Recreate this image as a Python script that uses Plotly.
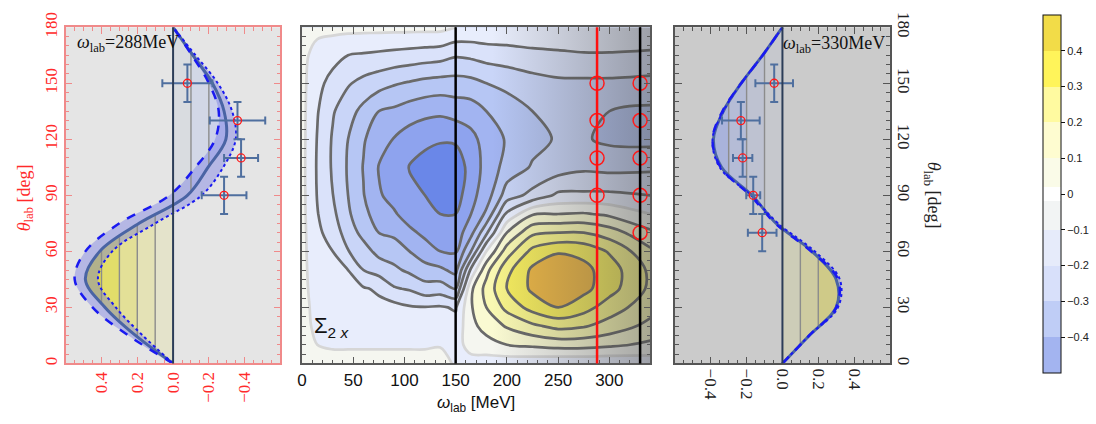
import numpy as np
import plotly.graph_objects as go

# ---------------- middle panel: Sigma_2x(omega, theta) ----------------
omega_grid = [0, 15, 30, 45, 60, 75, 90, 105, 120, 135, 150, 165, 180, 200, 225, 250, 275, 300, 340]
theta_grid = [0, 10, 20, 30, 40, 50, 60, 70, 80, 90, 105, 120, 135, 150, 165, 180]
# one list per omega column, values along theta_grid
s_w000 = [0.03, 0.03, 0.03, 0.03, 0.03, 0.03, 0.03, 0.03, 0.03, 0.03, 0.03, 0.03, 0.03, 0.03, 0.03, 0.03]
s_w015 = [0.03, 0.0, -0.02, -0.03, -0.045, -0.058, -0.07, -0.08, -0.095, -0.105, -0.11, -0.105, -0.093, -0.075, -0.04, 0.03]
s_w030 = [0.03, -0.01, -0.03, -0.05, -0.065, -0.085, -0.10, -0.14, -0.175, -0.198, -0.212, -0.21, -0.19, -0.13, -0.07, 0.03]
s_w045 = [0.03, -0.01, -0.035, -0.06, -0.08, -0.10, -0.195, -0.25, -0.285, -0.30, -0.31, -0.30, -0.26, -0.19, -0.10, 0.03]
s_w060 = [0.03, -0.01, -0.04, -0.065, -0.09, -0.20, -0.26, -0.33, -0.37, -0.395, -0.405, -0.39, -0.33, -0.23, -0.11, 0.03]
s_w075 = [0.03, -0.01, -0.04, -0.075, -0.115, -0.24, -0.33, -0.40, -0.45, -0.49, -0.505, -0.46, -0.40, -0.26, -0.12, 0.03]
s_w090 = [0.03, -0.01, -0.045, -0.065, -0.19, -0.28, -0.35, -0.42, -0.49, -0.53, -0.55, -0.505, -0.42, -0.29, -0.13, 0.03]
s_w105 = [0.03, -0.01, -0.05, -0.09, -0.21, -0.32, -0.40, -0.48, -0.54, -0.575, -0.605, -0.55, -0.45, -0.31, -0.14, 0.03]
s_w120 = [0.03, -0.01, -0.05, -0.095, -0.26, -0.36, -0.46, -0.52, -0.57, -0.60, -0.63, -0.58, -0.47, -0.33, -0.15, 0.03]
s_w135 = [0.03, -0.005, -0.04, -0.09, -0.25, -0.38, -0.50, -0.56, -0.60, -0.63, -0.66, -0.59, -0.48, -0.34, -0.16, 0.03]
s_w150 = [-0.01, -0.03, -0.065, -0.11, -0.30, -0.43, -0.51, -0.56, -0.60, -0.65, -0.68, -0.58, -0.46, -0.34, -0.19, 0.0]
s_w165 = [-0.03, 0.03, 0.07, 0.09, 0.08, -0.08, -0.30, -0.43, -0.50, -0.53, -0.55, -0.53, -0.45, -0.33, -0.18, -0.01]
s_w180 = [-0.05, 0.06, 0.14, 0.20, 0.235, 0.17, 0.0, -0.22, -0.38, -0.45, -0.47, -0.46, -0.40, -0.30, -0.16, -0.01]
s_w200 = [-0.06, 0.10, 0.21, 0.33, 0.40, 0.37, 0.25, 0.10, -0.08, -0.25, -0.36, -0.39, -0.36, -0.27, -0.15, -0.01]
s_w225 = [-0.07, 0.12, 0.28, 0.44, 0.52, 0.52, 0.43, 0.28, 0.09, -0.17, -0.29, -0.33, -0.30, -0.24, -0.13, -0.01]
s_w250 = [-0.08, 0.14, 0.33, 0.50, 0.58, 0.57, 0.49, 0.30, 0.10, -0.08, -0.25, -0.29, -0.27, -0.22, -0.12, -0.01]
s_w275 = [-0.08, 0.14, 0.31, 0.44, 0.53, 0.53, 0.47, 0.30, 0.11, -0.08, -0.22, -0.29, -0.28, -0.22, -0.11, -0.01]
s_w300 = [-0.08, 0.12, 0.26, 0.35, 0.44, 0.45, 0.39, 0.25, 0.08, -0.08, -0.23, -0.32, -0.30, -0.22, -0.11, -0.01]
s_w340 = [-0.06, 0.08, 0.17, 0.24, 0.28, 0.28, 0.22, 0.12, 0.0, -0.10, -0.22, -0.33, -0.32, -0.23, -0.12, -0.01]
sigma_columns = [s_w000, s_w015, s_w030, s_w045, s_w060, s_w075, s_w090, s_w105, s_w120, s_w135,
                 s_w150, s_w165, s_w180, s_w200, s_w225, s_w250, s_w275, s_w300, s_w340]

# vertical marker lines and data positions in the middle panel
omega_black_lines = [150, 330]
omega_red_line = 288
shade_omega = [185, 340]          # range of the grey gradient overlay

# ---------------- side panels: Sigma_2x(theta) at 288 MeV and 330 MeV ----------------
theta_curve = [0, 15, 30, 45, 60, 75, 90, 105, 120, 135, 150, 165, 180]
sig288_central = [0, 0.21, 0.38, 0.49, 0.41, 0.19, -0.08, -0.195, -0.295, -0.285, -0.22, -0.11, 0]
sig288_upper = [0, 0.25, 0.45, 0.55, 0.49, 0.30, 0.02, -0.125, -0.235, -0.255, -0.20, -0.105, 0]
sig288_lower = [0, 0.17, 0.32, 0.42, 0.34, 0.10, -0.16, -0.28, -0.35, -0.33, -0.25, -0.125, 0]
sig330_central = [0, 0.15, 0.30, 0.30, 0.165, -0.035, -0.17, -0.34, -0.385, -0.33, -0.23, -0.11, 0]
sig330_upper = [0, 0.15, 0.30, 0.31, 0.16, -0.04, -0.18, -0.345, -0.39, -0.335, -0.23, -0.11, 0]
sig330_lower = [0, 0.15, 0.31, 0.32, 0.18, -0.025, -0.175, -0.35, -0.39, -0.33, -0.23, -0.11, 0]

theta_exp288 = [150, 130, 110, 90]
sig_exp288 = [-0.08, -0.36, -0.38, -0.285]
dsig_exp288 = [0.14, 0.155, 0.095, 0.125]
dtheta_exp288 = [10, 10, 10, 10]
theta_exp330 = [150, 130, 110, 90, 70]
sig_exp330 = [-0.046, -0.232, -0.222, -0.163, -0.113]
dsig_exp330 = [0.105, 0.105, 0.054, 0.039, 0.08]
dtheta_exp330 = [10, 10, 10, 10, 10]

band_levels = [0.1, 0.2, 0.3, 0.4, 0.5]
sigma_ticks = [-0.4, -0.2, 0.0, 0.2, 0.4]
theta_ticks = [0, 30, 60, 90, 120, 150, 180]
omega_ticks = [0, 50, 100, 150, 200, 250, 300]
cbar_ticks = [-0.4, -0.3, -0.2, -0.1, 0, 0.1, 0.2, 0.3, 0.4]

# ---------------- styling ----------------
W, H = 1096, 424
SERIF = "Liberation Serif"
SANS = "Liberation Sans"
RED = "#ff2a2a"


def px_x(p):
    return p / W


def px_y(p):
    return 1 - p / H


y_dom = [px_y(363), px_y(12.7)]
fill_cols = ['#5f7fe6', '#6a87e8', '#8ea3ee', '#a2b4f1', '#b6c6f4', '#c9d5f8', '#dae2fa', '#e8edfc',
             '#f5f6f0', '#fafad2', '#f9f8b2', '#f8f48a', '#f5ec5e', '#ebb646', '#e0a040']
fill_scale = [[k / (len(fill_cols) - 1), c] for k, c in enumerate(fill_cols)]

cb_bounds = [-0.5, -0.4, -0.3, -0.2, -0.1, -0.02, 0.02, 0.1, 0.2, 0.3, 0.4, 0.5]
cb_cols = ['#a3b4f0', '#bfcdf6', '#d8e0fa', '#e6ebfa', '#f2f4f4', '#ffffff',
           '#fafbe8', '#fefcd0', '#fffaa0', '#fff45a', '#f2dc48']
cb_scale = []
for i, c in enumerate(cb_cols):
    cb_scale.append([(cb_bounds[i] + 0.5), c])
    cb_scale.append([(cb_bounds[i + 1] + 0.5), c])


def fmt(v):
    s = f"{abs(v):.1f}"
    return ("\u2212" + s) if v < 0 else s


fig = go.Figure()

# ---------------- middle contour ----------------
z = np.array(sigma_columns).T
SMOOTH = 0.9
fig.add_trace(go.Contour(x=omega_grid, y=theta_grid, z=z, autocontour=False,
                         contours=dict(start=-0.7, end=0.6, size=0.1, coloring='fill', showlines=False),
                         colorscale=fill_scale, showscale=False, line=dict(width=0, smoothing=SMOOTH),
                         hoverinfo='skip', xaxis='x', yaxis='y'))
for st, en, col in [(-0.6, -0.1, '#6a6a6a'), (0.1, 0.5, '#6a6a6a'), (0.0, 0.0, '#d6d6d6')]:
    fig.add_trace(go.Contour(x=omega_grid, y=theta_grid, z=z, autocontour=False,
                             contours=dict(start=st, end=en, size=0.1, coloring='none'),
                             line=dict(color=col, width=2.7, smoothing=SMOOTH), showscale=False,
                             hoverinfo='skip', xaxis='x', yaxis='y'))
# grey gradient overlay
fig.add_trace(go.Scatter(x=[shade_omega[0], shade_omega[1], shade_omega[1], shade_omega[0], shade_omega[0]],
                         y=[theta_grid[0], theta_grid[0], theta_grid[-1], theta_grid[-1], theta_grid[0]],
                         mode='none', fill='toself',
                         fillgradient=dict(type='horizontal', start=shade_omega[0], stop=shade_omega[1],
                                           colorscale=[[0, 'rgba(70,70,70,0)'], [1, 'rgba(70,70,70,0.46)']]),
                         hoverinfo='skip', xaxis='x', yaxis='y'))
# experimental angles shown as circles
fig.add_trace(go.Scatter(x=[omega_red_line] * len(theta_exp288) + [omega_black_lines[1]] * len(theta_exp330),
                         y=theta_exp288 + theta_exp330, mode='markers',
                         marker=dict(symbol='circle-open', size=14, color='#ff1a1a', line=dict(width=1.5)),
                         hoverinfo='skip', xaxis='x', yaxis='y'))


# ---------------- side panels ----------------
def crossings(theta, sig, level):
    out = []
    for i in range(1, len(theta)):
        s0, s1 = sig[i - 1], sig[i]
        if (s0 - level) * (s1 - level) < 0:
            out.append(theta[i - 1] + (level - s0) / (s1 - s0) * (theta[i] - theta[i - 1]))
    return out


def clipped(theta, sig, lo, hi):
    th_o, s_o = [theta[0]], [min(max(sig[0], lo), hi)]
    for i in range(1, len(theta)):
        pts = []
        for b in (lo, hi):
            for t in crossings(theta[i - 1:i + 1], sig[i - 1:i + 1], b):
                pts.append((t, b))
        for t, b in sorted(pts):
            th_o.append(t)
            s_o.append(b)
        th_o.append(theta[i])
        s_o.append(min(max(sig[i], lo), hi))
    return th_o, s_o


def side_panel(xa, ya, central, upper, lower, pos_cols, neg_cols, th_e, s_e, ds_e, dth_e):
    n = len(band_levels)
    for k in reversed(range(n)):
        hi = band_levels[k] if k < n - 1 else 10
        th, s = clipped(theta_curve, central, 0.0, hi)
        fig.add_trace(go.Scatter(x=s, y=th, mode='lines', line=dict(width=0, shape='spline'),
                                 fill='tozerox', fillcolor=pos_cols[k], hoverinfo='skip', xaxis=xa, yaxis=ya))
    for k in reversed(range(n)):
        lo = -band_levels[k] if k < n - 1 else -10
        th, s = clipped(theta_curve, central, lo, 0.0)
        fig.add_trace(go.Scatter(x=s, y=th, mode='lines', line=dict(width=0, shape='spline'),
                                 fill='tozerox', fillcolor=neg_cols[k], hoverinfo='skip', xaxis=xa, yaxis=ya))
    # uncertainty band
    fig.add_trace(go.Scatter(x=list(upper) + list(lower)[::-1], y=theta_curve + theta_curve[::-1],
                             mode='lines', line=dict(width=0, shape='spline'), fill='toself',
                             fillcolor='rgba(110,115,228,0.40)', hoverinfo='skip', xaxis=xa, yaxis=ya))
    # vertical level lines
    xs, ys = [], []
    for L in band_levels[:-1]:
        for lev in (L, -L):
            c = crossings(theta_curve, central, lev)
            if len(c) >= 2:
                xs += [lev, lev, None]
                ys += [c[0], c[-1], None]
    fig.add_trace(go.Scatter(x=xs, y=ys, mode='lines', line=dict(color='#8c8c8c', width=1.4),
                             hoverinfo='skip', xaxis=xa, yaxis=ya))
    fig.add_trace(go.Scatter(x=central, y=theta_curve, mode='lines',
                             line=dict(color='#4a64a4', width=3, shape='spline'), hoverinfo='skip', xaxis=xa, yaxis=ya))
    fig.add_trace(go.Scatter(x=upper, y=theta_curve, mode='lines',
                             line=dict(color='#1a1af0', width=2.5, dash='dash', shape='spline'),
                             hoverinfo='skip', xaxis=xa, yaxis=ya))
    fig.add_trace(go.Scatter(x=lower, y=theta_curve, mode='lines',
                             line=dict(color='#1a1af0', width=2, dash='dot', shape='spline'),
                             hoverinfo='skip', xaxis=xa, yaxis=ya))
    fig.add_trace(go.Scatter(x=s_e, y=th_e, mode='markers',
                             marker=dict(symbol='circle-open', size=8, color='#ff1a1a', line=dict(width=1.3)),
                             error_x=dict(type='data', array=ds_e, color='#4f6f9f', thickness=2, width=4),
                             error_y=dict(type='data', array=dth_e, color='#4f6f9f', thickness=2, width=4),
                             hoverinfo='skip', xaxis=xa, yaxis=ya))


side_panel('x2', 'y2', sig288_central, sig288_upper, sig288_lower,
           ['#e4e3cb', '#e4e2b6', '#e3e097', '#e2dd6a', '#e0da50'],
           ['#d9dce0', '#d2d7e6', '#cbd1eb', '#c3cbee', '#bcc5ef'],
           theta_exp288, sig_exp288, dsig_exp288, dtheta_exp288)
side_panel('x3', 'y3', sig330_central, sig330_upper, sig330_lower,
           ['#cdcdb8', '#cecba1', '#cfca88', '#d0c96c', '#d0c85a'],
           ['#c6c8cd', '#bec2d1', '#b5bcd6', '#a9b3db', '#a0abdc'],
           theta_exp330, sig_exp330, dsig_exp330, dtheta_exp330)

# colorbar carrier
fig.add_trace(go.Scatter(x=[None], y=[None], mode='markers', xaxis='x', yaxis='y', hoverinfo='skip',
                         marker=dict(color=[0], cmin=-0.5, cmax=0.5, colorscale=cb_scale, showscale=True,
                                     colorbar=dict(x=px_x(1043), xanchor='left', y=1, yanchor='top',
                                                   len=358, lenmode='pixels', thickness=18,
                                                   outlinecolor='#111', outlinewidth=1, xpad=0, ypad=0,
                                                   tickvals=cbar_ticks,
                                                   ticktext=[("\u2212" + f"{abs(v):g}") if v < 0 else f"{v:g}"
                                                             for v in cbar_ticks],
                                                   ticks='outside', ticklen=4, tickcolor='#111',
                                                   tickfont=dict(family=SANS, size=11, color='#222')))))


def axis_common(color, lw=1.5):
    return dict(showline=True, linecolor=color, linewidth=lw, mirror='allticks', ticks='inside',
                ticklen=7, tickwidth=1, tickcolor=color, showgrid=False, zeroline=False,
                ticklabeloverflow='allow')


mid_col = '#5a5a5a'
fig.update_layout(
    width=W, height=H, margin=dict(l=0, r=0, t=0, b=0), paper_bgcolor='white', plot_bgcolor='white',
    showlegend=False,
    xaxis=dict(domain=[px_x(298.3), px_x(648.3)], anchor='y', range=[0, 340], tickvals=omega_ticks,
               tickfont=dict(family=SANS, size=17, color='#111'),
               minor=dict(dtick=10, ticklen=4, tickcolor=mid_col, ticks='inside'), **axis_common(mid_col)),
    yaxis=dict(domain=y_dom, anchor='x', range=[0, 180], tickvals=theta_ticks, showticklabels=False,
               minor=dict(dtick=5, ticklen=4, tickcolor=mid_col, ticks='inside'), **axis_common(mid_col)),
    xaxis2=dict(domain=[px_x(61), px_x(276.7)], anchor='y2', range=[0.6, -0.6], tickvals=sigma_ticks,
                ticktext=[fmt(v) for v in sigma_ticks], tickangle=-90,
                tickfont=dict(family=SERIF, size=17, color=RED),
                minor=dict(dtick=0.05, tick0=0, ticklen=4, tickcolor='#f08a8a', ticks='inside'),
                **axis_common('#f08a8a')),
    yaxis2=dict(domain=y_dom, anchor='x2', range=[0, 180], tickvals=theta_ticks, tickangle=-90,
                tickfont=dict(family=SERIF, size=17, color=RED),
                minor=dict(dtick=5, ticklen=4, tickcolor='#f08a8a', ticks='inside'), **axis_common('#f08a8a')),
    xaxis3=dict(domain=[px_x(673), px_x(889)], anchor='y3', range=[-0.6, 0.6], tickvals=sigma_ticks,
                ticktext=[fmt(v) for v in sigma_ticks], tickangle=90,
                tickfont=dict(family=SERIF, size=17, color='#222'),
                minor=dict(dtick=0.05, tick0=0, ticklen=4, tickcolor='#555', ticks='inside'), **axis_common('#555')),
    yaxis3=dict(domain=y_dom, anchor='x3', side='right', range=[0, 180], tickvals=theta_ticks, tickangle=90,
                tickfont=dict(family=SERIF, size=17, color='#222'),
                minor=dict(dtick=5, ticklen=4, tickcolor='#555', ticks='inside'), **axis_common('#555')),
)

shapes = [
    dict(type='rect', xref='x2 domain', yref='y2 domain', x0=0, x1=1, y0=0, y1=1, fillcolor='#e5e5e5',
         line=dict(width=0), layer='below'),
    dict(type='rect', xref='x3 domain', yref='y3 domain', x0=0, x1=1, y0=0, y1=1, fillcolor='#cbcbcb',
         line=dict(width=0), layer='below'),
    dict(type='line', xref='x2', yref='y2 domain', x0=0, x1=0, y0=0, y1=1, line=dict(color='#2c3d58', width=2)),
    dict(type='line', xref='x3', yref='y3 domain', x0=0, x1=0, y0=0, y1=1, line=dict(color='#2c3d58', width=2)),
]
for w in omega_black_lines:
    shapes.append(dict(type='line', xref='x', yref='y domain', x0=w, x1=w, y0=0, y1=1,
                       line=dict(color='#000000', width=2.5)))
shapes.append(dict(type='line', xref='x', yref='y domain', x0=omega_red_line, x1=omega_red_line, y0=0, y1=1,
                   line=dict(color='#ff1010', width=2.5)))
fig.update_layout(shapes=shapes)

ann = [
    dict(text='<i>θ</i><sub>lab</sub> [deg]', x=px_x(20), y=px_y(190), textangle=-90,
         font=dict(family=SERIF, size=18, color=RED)),
    dict(text='<i>θ</i><sub>lab</sub> [deg]', x=px_x(932), y=px_y(188), textangle=90,
         font=dict(family=SERIF, size=18, color='#222')),
    dict(text='<i>ω</i><sub>lab</sub> [MeV]', x=px_x(473), y=px_y(405),
         font=dict(family=SANS, size=17, color='#111')),
    dict(text=f'<i>ω</i><sub>lab</sub>={omega_red_line}MeV', x=px_x(70), y=px_y(30), xanchor='left',
         font=dict(family=SERIF, size=18, color='#111')),
    dict(text=f'<i>ω</i><sub>lab</sub>={omega_black_lines[1]}MeV', x=px_x(780), y=px_y(31), xanchor='left',
         font=dict(family=SERIF, size=18, color='#111')),
    dict(text='Σ<sub>2 <i>x</i></sub>', x=px_x(308), y=px_y(325), xanchor='left',
         font=dict(family=SANS, size=22, color='#111')),
]
for a in ann:
    a.update(xref='paper', yref='paper', showarrow=False)
    a.setdefault('xanchor', 'center')
    a.setdefault('yanchor', 'middle')
fig.update_layout(annotations=ann)

fig.write_html("out.html")
